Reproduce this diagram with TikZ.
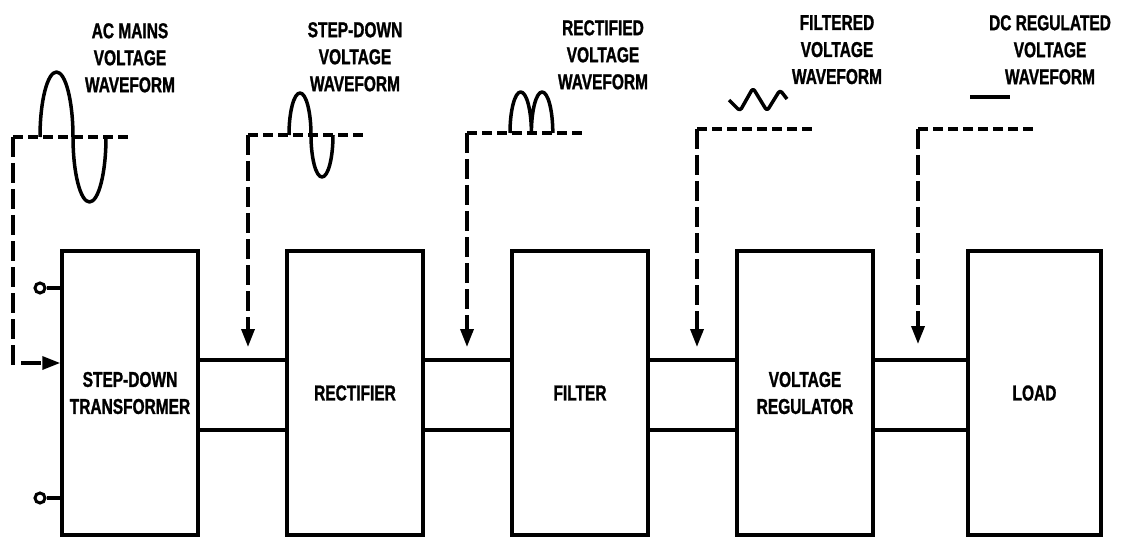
\documentclass[tikz,border=0pt]{standalone}
\usepackage{fontspec}
\setmainfont{Liberation Sans}[FakeStretch=0.72, BoldFeatures={FakeBold=1.2}]
\usepackage{tikz}
\usetikzlibrary{positioning,arrows.meta}

\begin{document}
\begin{tikzpicture}[
    x=1pt, y=1pt,
    node distance=85.5pt,
    font=\fontsize{21.5}{27}\selectfont\bfseries,
    block/.style={rectangle, draw, line width=3.5pt, minimum width=136pt,
                  minimum height=284pt, align=center, inner sep=0pt},
    label/.style={anchor=north, align=center, inner sep=0pt},
    wire/.style={line width=3.5pt},
    wave/.style={line width=3.5pt, line join=round},
    hdash/.style={line width=3.5pt, dash pattern=on 10pt off 5pt},
    vdash/.style={line width=3.5pt, dash pattern=on 20pt off 6pt},
    arr/.style={-{Triangle[length=18pt,width=13pt]}},
    term/.style={circle, draw, line width=3pt, minimum size=10pt, inner sep=0pt}
  ]
    \useasboundingbox (0,0) rectangle (1121,539);

    % blocks
    \node[block] (xfmr) at (130,146) {STEP-DOWN\\TRANSFORMER};
    \node[block, right=of xfmr] (rect) {RECTIFIER};
    \node[block, right=of rect] (filt) {FILTER};
    \node[block, right=of filt] (vreg) {VOLTAGE\\REGULATOR};
    \node[block, minimum width=133pt, right=91.5pt of vreg] (load) {LOAD};

    % wires between blocks
    \foreach \a/\b in {xfmr/rect, rect/filt, filt/vreg, vreg/load} {
      \draw[wire] ([yshift=33pt]\a.east) -- ([yshift=33pt]\b.west);
      \draw[wire] ([yshift=-37pt]\a.east) -- ([yshift=-37pt]\b.west);
    }

    % input terminals
    \node[term] (tin1) at (40,251) {};
    \node[term] (tin2) at (40,41) {};
    \draw[wire] (tin1) -- (tin1 -| xfmr.west);
    \draw[wire] (tin2) -- (tin2 -| xfmr.west);

    % waveform labels
    \node[label] (acLbl)   at (130,516)  {AC MAINS\\VOLTAGE\\WAVEFORM};
    \node[label] (sdLbl)   at (355,517)  {STEP-DOWN\\VOLTAGE\\WAVEFORM};
    \node[label] (rcLbl)   at (603,519)  {RECTIFIED\\VOLTAGE\\WAVEFORM};
    \node[label] (ftLbl)   at (837,524)  {FILTERED\\VOLTAGE\\WAVEFORM};
    \node[label] (dcLbl)   at (1050,524) {DC REGULATED\\VOLTAGE\\WAVEFORM};

    % signal taps
    \coordinate (acL) at (13,402);   \coordinate (acR) at (128,402);
    \coordinate (sdL) at (248,404);  \coordinate (sdR) at (365,404);
    \coordinate (rcL) at (467,406);  \coordinate (rcR) at (583,406);
    \coordinate (ftL) at (697,410);  \coordinate (ftR) at (812,410);
    \coordinate (dcL) at (918,410);  \coordinate (dcR) at (1035,410);
    \coordinate (sdTip) at (248,192);
    \coordinate (rcTip) at (467,192);
    \coordinate (ftTip) at (697,192);
    \coordinate (dcTip) at (918,195);

    \draw[hdash] (acL) -- (acR);
    \draw[hdash] (sdL) -- (sdR);
    \draw[hdash] (rcL) -- (rcR);
    \draw[hdash] (ftL) -- (ftR);
    \draw[hdash] (dcL) -- (dcR);

    \draw[vdash,arr] (acL) |- ([yshift=30pt]xfmr.west);
    \draw[vdash,arr] (sdL) -- (sdTip);
    \draw[vdash,arr] (rcL) -- (rcTip);
    \draw[vdash,arr] (ftL) -- (ftTip);
    \draw[vdash,arr] (dcL) -- (dcTip);

    % waveforms
    \draw[wave] (40,402) arc[start angle=180, end angle=0, x radius=16.5pt, y radius=65pt]
                         arc[start angle=180, end angle=360, x radius=16.5pt, y radius=65pt];
    \draw[wave] (289,404) arc[start angle=180, end angle=0, x radius=11pt, y radius=42pt]
                          arc[start angle=180, end angle=360, x radius=11pt, y radius=42pt];
    \draw[wave] (510,406) arc[start angle=180, end angle=0, x radius=10.7pt, y radius=41pt]
                          arc[start angle=180, end angle=0, x radius=10.7pt, y radius=41pt];
    \draw[wave, rounded corners=3pt] (729,439) -- (740,428) -- (753,451) -- (767,428)
                                     -- (780,449) -- (787,440);
    \draw[wave] (970,442) -- (1010,442);
\end{tikzpicture}
\end{document}
